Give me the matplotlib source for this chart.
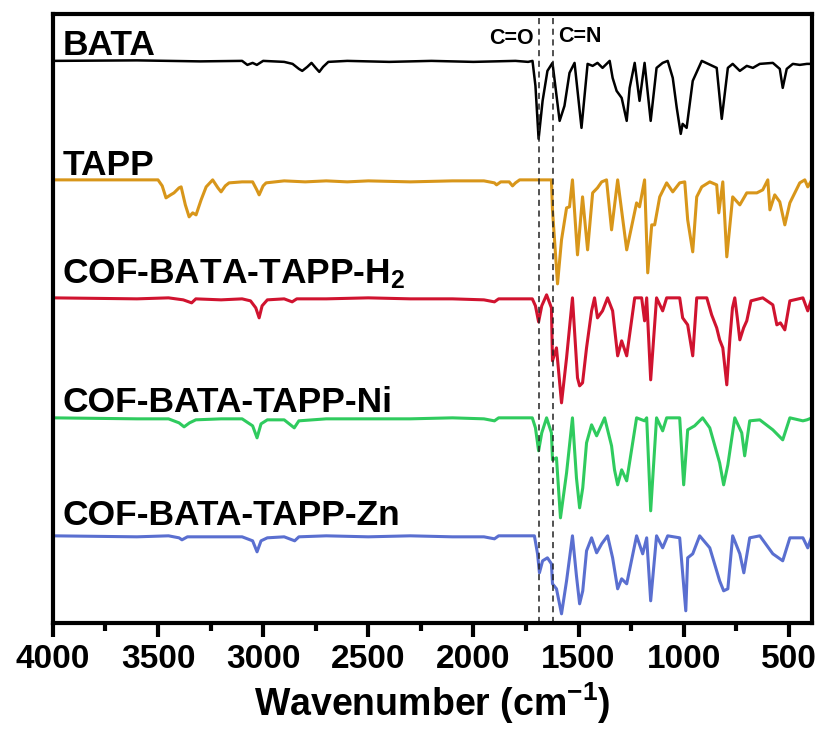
import matplotlib
matplotlib.use("Agg")
import matplotlib.pyplot as plt

# FTIR spectra.
# Intensities are relative to each trace's own baseline (0 = flat, negative = absorption dip).
BATA_WN = [4000, 3600, 3300, 3100, 3075, 3050, 3030, 3000, 2900, 2860, 2830, 2814, 2790, 2770,
           2750, 2733, 2715, 2690, 2600, 2400, 2200, 2000, 1800, 1740, 1719, 1705, 1690, 1671,
           1648, 1624, 1590, 1567, 1543, 1519, 1486, 1457, 1433, 1410, 1386, 1352, 1338, 1319,
           1295, 1271, 1257, 1233, 1210, 1186, 1157, 1129, 1100, 1076, 1052, 1033, 1014, 1005,
           986, 957, 914, 843, 819, 790, 767, 733, 700, 671, 638, 576, 543, 529, 510, 481, 448,
           414, 390]
BATA_T = [0, 0.5, -0.5, 0, -4, -2, -4, 0, -1, -3, -8, -10, -6, -2,
          -7, -11, -6, -1, 0, -1, 0, -1, 0, -1, 0, -25, -78, -40,
          -10, -2, -60, -45, -12, -2, -67, -3, -5, -2, -7, 0, -17, -30,
          -37, -60, -27, -2, -40, -2, -60, -7, -2, 0, -17, -47, -73, -63,
          -67, -20, 0, -7, -58, -7, -3, -10, -5, -7, -3, -2, -8, -27, -8, -3, -4,
          -3, -3]

TAPP_WN = [4000, 3500, 3480, 3462, 3440, 3424, 3400, 3390, 3370, 3352, 3335, 3319, 3295, 3271,
           3240, 3215, 3200, 3180, 3162, 3100, 3050, 3030, 3019, 3000, 2986, 2900, 2800, 2700,
           2600, 2500, 2300, 2100, 1950, 1900, 1890, 1870, 1830, 1814, 1800, 1780, 1700, 1629,
           1624, 1600, 1581, 1557, 1543, 1529, 1505, 1481, 1457, 1433, 1410, 1390, 1367, 1343,
           1314, 1271, 1248, 1224, 1210, 1186, 1171, 1152, 1138, 1114, 1081, 1052, 1019, 995,
           981, 957, 938, 914, 876, 843, 833, 814, 795, 767, 733, 700, 652, 624, 600, 590, 567,
           543, 519, 495, 448, 424, 410, 390]
TAPP_T = [0, 0, -6, -18, -15, -13, -8, -7, -25, -37, -33, -35, -20, -7,
          0, -8, -12, -6, -3, -2, -2, -10, -15, -6, -3, -1, -2, -1,
          -2, -1, -2, -1, -1, -3, -5, -2, -2, -6, -3, 0, 0, 0,
          -30, -104, -60, -28, -27, 0, -75, -17, -70, -13, -8, -2, 0, -50,
          0, -70, -47, -23, -27, 0, -93, -45, -45, -17, -3, -12, -3, -2,
          -40, -72, -17, -7, -2, -5, -33, -2, -77, -17, -25, -13, -13, -10, 0, -30, -15,
          -22, -45, -23, -3, 0, -7, 0]

H2_WN = [4000, 3600, 3450, 3380, 3340, 3320, 3200, 3100, 3060, 3035, 3019, 3005, 2980, 2900,
         2862, 2840, 2700, 2500, 2300, 2100, 1950, 1900, 1880, 1800, 1720, 1705, 1690, 1675,
         1652, 1629, 1624, 1605, 1581, 1557, 1529, 1505, 1495, 1481, 1462, 1438, 1424, 1410,
         1386, 1362, 1338, 1314, 1295, 1271, 1233, 1200, 1186, 1176, 1157, 1129, 1100, 1081,
         1019, 1005, 981, 957, 938, 890, 867, 843, 829, 814, 795, 780, 768, 757, 745, 733,
         715, 700, 680, 624, 576, 557, 540, 519, 495, 433, 410, 390]
H2_T = [0, -1, 0, -2, -5, -1, -2, -1, -3, -10, -20, -8, -2, -1,
        -4, -1, -1, 0, -1, -1, -2, -4, -1, -1, -1, -8, -24, -8,
        3, -10, -63, -50, -105, -60, 0, -80, -88, -85, -50, -13, 0, -20,
        -13, 0, -13, -58, -43, -58, 0, 0, -23, 0, -82, 0, -13, 0,
        0, -20, -27, -58, 0, 0, -17, -30, -42, -50, -87, -40, -10, 0, -20, -42,
        -30, -23, -3, 0, -7, -27, -25, -32, -3, 0, -13, 0]

NI_WN = [4000, 3600, 3450, 3400, 3376, 3350, 3320, 3200, 3100, 3050, 3029, 3010, 2980, 2900,
         2852, 2830, 2700, 2500, 2300, 2100, 1950, 1900, 1880, 1720, 1705, 1690, 1675, 1652,
         1629, 1624, 1605, 1586, 1557, 1529, 1510, 1495, 1480, 1462, 1438, 1414, 1376, 1343,
         1329, 1314, 1295, 1271, 1224, 1186, 1176, 1157, 1129, 1100, 1081, 1019, 1000, 981,
         948, 910, 876, 829, 810, 790, 757, 724, 710, 686, 638, 576, 529, 495, 433, 414, 390]
NI_T = [0, -1, -1, -5, -9, -5, -2, -1, -1, -8, -20, -6, -2, -2,
        -10, -3, -1, -1, -1, 0, -1, -3, 0, 0, -10, -33, -15, 0,
        -15, -42, -40, -100, -55, 0, -60, -90, -70, -25, -7, -18, 0, -28,
        -52, -67, -52, -63, 0, -3, 0, -93, 0, -13, 0, 0, -67, -12,
        -8, 0, -10, -45, -67, -47, 0, -15, -38, -3, -2, -12, -22, 0, -3, -2, 0]

ZN_WN = [4000, 3600, 3450, 3400, 3386, 3360, 3200, 3100, 3050, 3029, 3010, 2980, 2900, 2850,
         2830, 2700, 2500, 2300, 2100, 1950, 1900, 1880, 1710, 1695, 1686, 1671, 1648, 1629,
         1624, 1605, 1581, 1557, 1529, 1510, 1495, 1480, 1462, 1438, 1414, 1390, 1362, 1338,
         1314, 1295, 1271, 1224, 1195, 1176, 1157, 1129, 1100, 1076, 1019, 990, 981, 957, 924,
         876, 829, 810, 790, 767, 733, 714, 686, 638, 576, 529, 495, 433, 410, 390]
ZN_T = [0, -1, 0, -2, -4, -1, -1, -1, -5, -16, -5, -2, -1, -5,
        -1, 0, -1, 0, -1, -1, -3, 0, 0, -18, -37, -25, -22, -28,
        -48, -53, -78, -45, 0, -40, -68, -55, -15, -2, -17, -8, 0, -22,
        -53, -43, -48, 0, -18, -2, -65, 0, -12, 0, -2, -75, -22, -18, 0,
        -12, -45, -55, -53, 0, -18, -37, -2, 0, -18, -25, -2, -2, -12, 0]

LABELS = ["BATA", "TAPP", "COF-BATA-TAPP-H$_2$", "COF-BATA-TAPP-Ni", "COF-BATA-TAPP-Zn"]
COLORS = ["black", "#D8961A", "#D0132F", "#2FCB5E", "#5A6FD0"]
OFFSETS = [-61, -180, -298, -418, -536]
LABEL_Y = [-55, -175, -283, -412, -525]
MARKERS = {"C=O": 1690, "C=N": 1620}

plt.rcParams["font.family"] = ["Liberation Sans", "DejaVu Sans"]
plt.rcParams["font.weight"] = "bold"
plt.rcParams["mathtext.default"] = "regular"

fig = plt.figure(figsize=(8.26, 7.31), dpi=100)
ax = fig.add_axes([0.064, 0.148, 0.919, 0.833])

series = [(BATA_WN, BATA_T), (TAPP_WN, TAPP_T), (H2_WN, H2_T), (NI_WN, NI_T), (ZN_WN, ZN_T)]
for (wn, t), lab, col, off, ly in zip(series, LABELS, COLORS, OFFSETS, LABEL_Y):
    lw = 1.8 if col == "black" else 2.2
    ax.plot(wn, [v + off for v in t], color=col, lw=lw,
            solid_joinstyle="round", solid_capstyle="round")
    ax.text(3955, ly, lab, fontsize=25.5, fontweight="bold", va="baseline", ha="left")

for name, wn in MARKERS.items():
    ax.axvline(wn, color="#222222", lw=1.1, ls=(0, (4, 3)))
ax.text(1715, -44, "C=O", fontsize=15.5, fontweight="bold", ha="right", va="baseline")
ax.text(1598, -42, "C=N", fontsize=15.5, fontweight="bold", ha="left", va="baseline")

ax.set_xlim(4000, 390)
ax.set_ylim(-623, -14)
ax.set_yticks([])
ax.set_xticks([4000, 3500, 3000, 2500, 2000, 1500, 1000, 500])
ax.set_xticks([3750, 3250, 2750, 2250, 1750, 1250, 750], minor=True)
ax.tick_params(axis="x", which="major", direction="out", length=10, width=3, labelsize=24, pad=5)
ax.tick_params(axis="x", which="minor", direction="out", length=6, width=3)
for lbl in ax.get_xticklabels():
    lbl.set_fontweight("bold")
for sp in ax.spines.values():
    sp.set_linewidth(3)
ax.set_xlabel("Wavenumber (cm$^{-1}$)", fontsize=27, fontweight="bold", labelpad=4)

fig.savefig("out.png", dpi=100)
